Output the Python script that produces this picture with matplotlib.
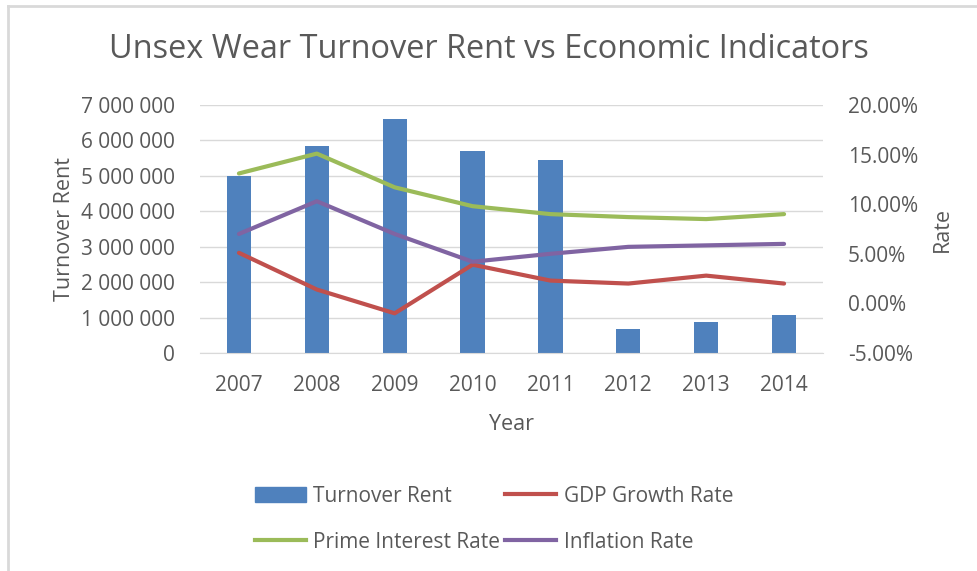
import matplotlib
matplotlib.use("Agg")
import matplotlib.pyplot as plt
from matplotlib.ticker import FuncFormatter
from matplotlib.lines import Line2D
from matplotlib.patches import Patch

years = ["2007", "2008", "2009", "2010", "2011", "2012", "2013", "2014"]
turnover_rent = [5000000, 5840000, 6600000, 5690000, 5440000, 670000, 880000, 1060000]
gdp_growth = [5.1, 1.4, -1.0, 3.9, 2.3, 2.0, 2.8, 2.0]
prime_rate = [13.1, 15.1, 11.7, 9.8, 9.0, 8.7, 8.5, 9.0]
inflation = [7.0, 10.3, 7.0, 4.2, 5.0, 5.7, 5.85, 6.0]

FONT = ["Open Sans", "DejaVu Sans"]
plt.rcParams['font.family'] = FONT
TXT = "#595959"
BLUE = "#4f81bd"
RED = "#c0504d"
GREEN = "#9bbb59"
PURPLE = "#8064a2"
LW = 3.0

fig = plt.figure(figsize=(9.78, 5.71), dpi=100)
ax = fig.add_axes([200/978, 1-353/571, 623/978, 248/571])
x = list(range(len(years)))
ax.bar(x, turnover_rent, width=0.31, color=BLUE, zorder=2)
ax.set_xlim(-0.5, 7.5)
ax.set_ylim(0, 7000000)
ax.set_yticks(range(0, 7000001, 1000000))
ax.yaxis.set_major_formatter(FuncFormatter(lambda v, p: f"{int(v):,}".replace(",", " ")))
ax.set_xticks(x)
ax.set_xticklabels(years)
ax.grid(axis='y', color="#d9d9d9", linewidth=1, zorder=0)
ax.set_axisbelow(True)
for s in ["left", "right", "top"]:
    ax.spines[s].set_visible(False)
ax.spines["bottom"].set_color("#d9d9d9")
ax.tick_params(axis='both', length=0, labelsize=15, colors=TXT)
ax.tick_params(axis='x', pad=16)
ax.tick_params(axis='y', pad=18)
ax.set_ylabel("Turnover Rent", fontsize=15.5, color=TXT, labelpad=4)
ax.set_xlabel("Year", fontsize=15.5, color=TXT, labelpad=13)

ax2 = ax.twinx()
ax2.plot(x, gdp_growth, color=RED, linewidth=LW, solid_capstyle='round', zorder=3)
ax2.plot(x, prime_rate, color=GREEN, linewidth=LW, solid_capstyle='round', zorder=3)
ax2.plot(x, inflation, color=PURPLE, linewidth=LW, solid_capstyle='round', zorder=3)
ax2.set_ylim(-5, 20)
ax2.set_yticks(range(-5, 21, 5))
ax2.yaxis.set_major_formatter(FuncFormatter(lambda v, p: f"{v:.2f}%"))
for s in ["left", "right", "top", "bottom"]:
    ax2.spines[s].set_visible(False)
ax2.tick_params(axis='y', length=0, labelsize=15, colors=TXT, pad=18)
ax2.set_ylabel("Rate", fontsize=15.5, color=TXT, labelpad=10)

fig.suptitle("Unsex Wear Turnover Rent vs Economic Indicators", y=1-50/571, va='center',
             fontsize=23.4, color=TXT)

h_rent = Patch(color=BLUE)
h_gdp = Line2D([], [], color=RED, linewidth=LW)
h_prime = Line2D([], [], color=GREEN, linewidth=LW)
h_infl = Line2D([], [], color=PURPLE, linewidth=LW)
handles = [h_rent, h_prime, h_gdp, h_infl]
labels = ["Turnover Rent", "Prime Interest Rate", "GDP Growth Rate", "Inflation Rate"]
leg = fig.legend(handles, labels, loc='center', bbox_to_anchor=(494/978, 1-519/571), ncol=2,
                 frameon=False, fontsize=15, handlelength=2.45, handletextpad=0.35,
                 columnspacing=0.25, labelspacing=1.2, labelcolor=TXT)

fig.add_artist(Line2D([8/978, 8/978], [0, 1-6/571], color="#d9d9d9", linewidth=2, transform=fig.transFigure))
fig.add_artist(Line2D([8/978, 1], [1-6/571, 1-6/571], color="#d9d9d9", linewidth=2, transform=fig.transFigure))

fig.savefig("out.png", dpi=100)
